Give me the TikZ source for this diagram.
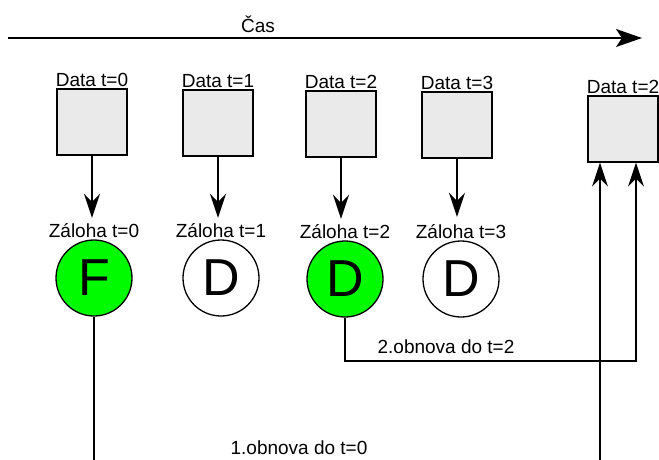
\documentclass[tikz,border=0pt]{standalone}
\usepackage{fontspec}
\setmainfont{Liberation Sans}
\usepackage{xcolor}
\usetikzlibrary{arrows.meta}
\definecolor{databox}{RGB}{234,234,234}
\definecolor{okfill}{RGB}{0,250,0}

\begin{document}
\begin{tikzpicture}[x=1pt, y=-1pt,
  font=\fontsize{19}{22}\selectfont,
  dbox/.style={draw, line width=1.4pt, fill=databox, minimum width=70pt, minimum height=66pt, inner sep=0pt},
  bk/.style={draw, circle, line width=1.3pt, minimum size=76pt, inner sep=0pt, font=\fontsize{52}{60}\selectfont},
  lbl/.style={inner sep=1.5pt, label distance=0pt},
  arr/.style={-{Stealth[length=24pt, width=16pt, inset=8pt]}, line width=1.3pt},
  ln/.style={line width=1.3pt}]
  \useasboundingbox (0,0) rectangle (659,460);
  % time axis
  \coordinate (ts) at (8,38);
  \coordinate (te) at (642,38);
  \draw[line width=1.3pt, -{Stealth[length=26pt, width=18pt, inset=6pt]}] (ts) -- (te);
  \node (cas) at (258,24) {Čas};
  % data snapshots
  \node[dbox, label={[lbl]above:Data t=0}] (data0) at (92,122) {};
  \node[dbox, label={[lbl]above:Data t=1}] (data1) at (218,123) {};
  \node[dbox, label={[lbl]above:Data t=2}] (data2) at (341,124) {};
  \node[dbox, label={[lbl]above:Data t=3}] (data3) at (457,125) {};
  \node[dbox, label={[lbl]above:Data t=2}] (dataR) at (623,129) {};
  % backups, F = full, D = differential
  \node[bk, fill=okfill, label={[lbl, name=zl0]above:Záloha t=0}] (zal0) at (94,278) {F};
  \node[bk, label={[lbl, name=zl1]above:Záloha t=1}] (zal1) at (221,278) {D};
  \node[bk, fill=okfill, label={[lbl, name=zl2]above:Záloha t=2}] (zal2) at (345,279) {D};
  \node[bk, label={[lbl, name=zl3]above:Záloha t=3}] (zal3) at (461,279) {D};
  \draw[arr, shorten >=4pt] (data0.south) -- (data0.south |- zl0.north);
  \draw[arr, shorten >=4pt] (data1.south) -- (data1.south |- zl1.north);
  \draw[arr, shorten >=4pt] (data2.south) -- (data2.south |- zl2.north);
  \draw[arr, shorten >=6pt] (data3.south) -- (data3.south |- zl3.north);
  % restores
  \coordinate (r2) at (636,361);
  \draw[arr] (zal2.south) |- (r2) -- (r2 |- dataR.south);
  \node (ob2) at (446,347) {2.obnova do t=2};
  \coordinate (b0) at (94,470);
  \coordinate (b1) at (600,470);
  \draw[ln] (zal0.south) -- (b0);
  \draw[arr] (b1) -- (b1 |- dataR.south);
  \node (ob1) at (299,448) {1.obnova do t=0};
\end{tikzpicture}
\end{document}
